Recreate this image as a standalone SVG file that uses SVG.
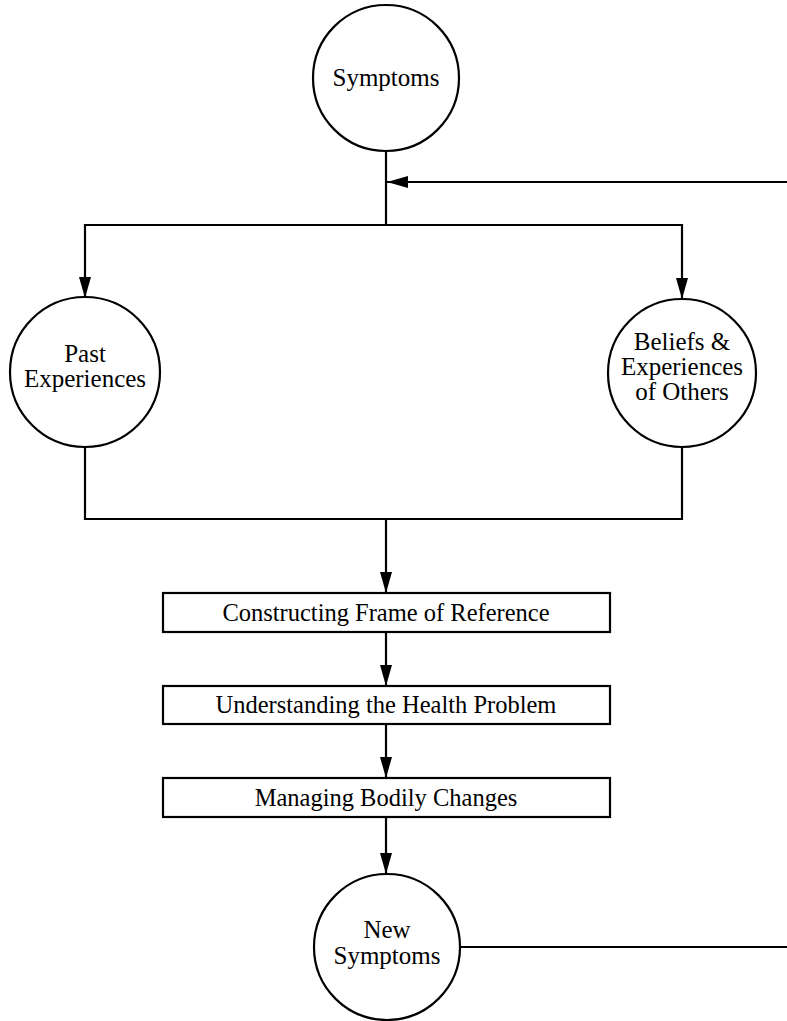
<svg xmlns="http://www.w3.org/2000/svg" width="787" height="1021" viewBox="0 0 787 1021">
  <style>
    .node { fill: #ffffff; stroke: #000000; stroke-width: 2.2; }
    .edge { fill: none; stroke: #000000; stroke-width: 2.2; }
    .lbl { font-family: "Liberation Serif", "Times New Roman", serif; font-size: 25px; fill: #000000; text-anchor: middle; }
    .box { font-size: 24.5px; }
  </style>
  <defs>
    <marker id="arrow" markerUnits="userSpaceOnUse" markerWidth="22" markerHeight="12" refX="21" refY="6" orient="auto">
      <path d="M0,0 L21,6 L0,12 Z" fill="#000000"/>
    </marker>
  </defs>
  <rect width="787" height="1021" fill="#ffffff"/>

  <g id="connectors">
    <!-- Symptoms down to the splitter -->
    <line class="edge" x1="386" y1="151" x2="386" y2="225"/>
    <!-- feedback loop entering from the right -->
    <line class="edge" x1="787" y1="182" x2="387" y2="182" marker-end="url(#arrow)"/>
    <!-- splitter -->
    <line class="edge" x1="84" y1="225" x2="683" y2="225"/>
    <line class="edge" x1="85" y1="224" x2="85" y2="298" marker-end="url(#arrow)"/>
    <line class="edge" x1="682" y1="224" x2="682" y2="299" marker-end="url(#arrow)"/>
    <!-- merge -->
    <polyline class="edge" points="85,446 85,519 682,519 682,447"/>
    <line class="edge" x1="386" y1="519" x2="386" y2="593" marker-end="url(#arrow)"/>
    <!-- chain of steps -->
    <line class="edge" x1="386" y1="632" x2="386" y2="686" marker-end="url(#arrow)"/>
    <line class="edge" x1="386" y1="724" x2="386" y2="778" marker-end="url(#arrow)"/>
    <line class="edge" x1="386" y1="817" x2="386" y2="874" marker-end="url(#arrow)"/>
    <!-- New Symptoms back out to the right -->
    <line class="edge" x1="460" y1="947" x2="787" y2="947"/>
  </g>

  <g id="symptoms">
    <circle class="node" cx="386" cy="78" r="73"/>
    <text class="lbl" x="386" y="86">Symptoms</text>
  </g>

  <g id="past-experiences">
    <circle class="node" cx="85" cy="372" r="75"/>
    <text class="lbl" x="85" y="362">Past</text>
    <text class="lbl" x="85" y="387">Experiences</text>
  </g>

  <g id="beliefs-others">
    <circle class="node" cx="682" cy="373" r="74"/>
    <text class="lbl" x="682" y="350">Beliefs &amp;</text>
    <text class="lbl" x="682" y="375">Experiences</text>
    <text class="lbl" x="682" y="400">of Others</text>
  </g>

  <g id="frame-of-reference">
    <rect class="node" x="163" y="593" width="447" height="39"/>
    <text class="lbl box" x="386" y="621">Constructing Frame of Reference</text>
  </g>

  <g id="understanding">
    <rect class="node" x="163" y="686" width="447" height="38"/>
    <text class="lbl box" x="386" y="713">Understanding the Health Problem</text>
  </g>

  <g id="managing">
    <rect class="node" x="163" y="778" width="447" height="39"/>
    <text class="lbl box" x="386" y="806">Managing Bodily Changes</text>
  </g>

  <g id="new-symptoms">
    <circle class="node" cx="387" cy="947" r="73"/>
    <text class="lbl" x="387" y="938">New</text>
    <text class="lbl" x="387" y="964">Symptoms</text>
  </g>
</svg>
